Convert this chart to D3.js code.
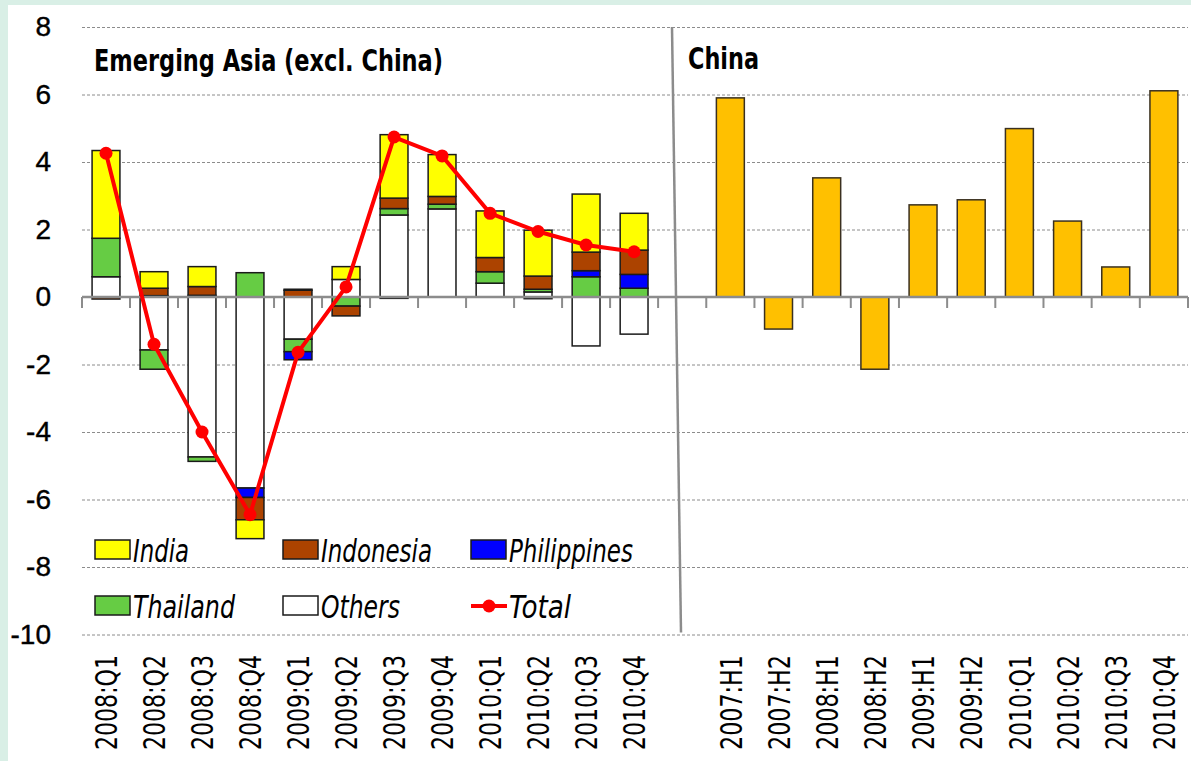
<!DOCTYPE html>
<html>
<head>
<meta charset="utf-8">
<script src="https://cdn.jsdelivr.net/npm/d3@7"></script>
<style>
body { margin: 0; background: #d9efe6; }
svg { display: block; }
.narrow { font-family: "DejaVu Sans Condensed", "DejaVu Sans", sans-serif; font-stretch: condensed; }
</style>
</head>
<body>
<svg width="1191" height="761"></svg>
<script>
// left panel: contributions, quarterly
var quarters = ["2008:Q1", "2008:Q2", "2008:Q3", "2008:Q4", "2009:Q1", "2009:Q2",
    "2009:Q3", "2009:Q4", "2010:Q1", "2010:Q2", "2010:Q3", "2010:Q4"];
var india = [2.60, 0.49, 0.59, -0.56, 0.03, 0.38, 1.88, 1.24, 1.38, 1.36, 1.72, 1.09];
var indonesia = [-0.06, 0.22, 0.26, -0.66, 0.20, -0.29, 0.31, 0.23, 0.42, 0.39, 0.55, 0.72];
var philippines = [0, 0.04, 0.05, -0.28, -0.24, 0, -0.04, 0, 0, -0.05, 0.18, 0.41];
var thailand = [1.14, -0.57, -0.13, 0.72, -0.37, -0.27, 0.19, 0.14, 0.34, 0.08, 0.60, 0.26];
var others = [0.60, -1.57, -4.74, -5.66, -1.25, 0.52, 2.43, 2.61, 0.41, 0.15, -1.45, -1.10];
var total = [4.26, -1.40, -4.00, -6.45, -1.64, 0.30, 4.74, 4.18, 2.48, 1.94, 1.54, 1.34];

// right panel: China
var chinaPeriods = ["2007:H1", "2007:H2", "2008:H1", "2008:H2", "2009:H1", "2009:H2",
    "2010:Q1", "2010:Q2", "2010:Q3", "2010:Q4"];
var china = [5.90, -0.95, 3.53, -2.14, 2.73, 2.88, 4.99, 2.25, 0.89, 6.11];

var yTicks = [8, 6, 4, 2, 0, -2, -4, -6, -8, -10];

var svg = d3.select("svg");

svg.append("rect").attr("x", 8).attr("y", 5).attr("width", 1183).attr("height", 756)
    .attr("fill", "#fff");

var y = d3.scaleLinear().domain([-10, 8]).range([634.5, 27]);
var x = d3.scaleBand().domain(quarters).range([82, 658.1])
    .paddingInner(0.42).paddingOuter(0.21);
var x2 = d3.scaleBand().domain([" "].concat(chinaPeriods)).range([658.1, 1188])
    .paddingInner(0.42).paddingOuter(0.21);

// gridlines
svg.append("g")
    .attr("transform", "translate(82,0)")
    .call(d3.axisLeft(y).tickValues(yTicks.filter(function (d) { return d !== 0; }))
        .tickSize(-1106).tickFormat(""))
    .call(function (g) {
        g.select(".domain").remove();
        g.selectAll("line").attr("stroke", "#8c8c8c").attr("stroke-dasharray", "3,2");
    });

// y labels
svg.append("g")
    .attr("transform", "translate(51,0)")
    .call(d3.axisLeft(y).tickValues(yTicks).tickSize(0).tickPadding(0)
        .tickFormat(function (d) { return String(d); }))
    .call(function (g) {
        g.select(".domain").remove();
        g.selectAll("text").attr("font-family", "Liberation Sans").attr("font-size", 28)
            .attr("stroke", "#000").attr("stroke-width", 0.4).attr("fill", "#000");
    });

// stacked bars
var keys = ["Others", "Thailand", "Philippines", "Indonesia", "India"];
var colors = {India: "#ffff00", Indonesia: "#ac4300", Philippines: "#0000ff",
    Thailand: "#66cc44", Others: "#ffffff"};
var rows = quarters.map(function (q, i) {
    return {q: q, India: india[i], Indonesia: indonesia[i], Philippines: philippines[i],
        Thailand: thailand[i], Others: others[i]};
});
var series = d3.stack().keys(keys).offset(d3.stackOffsetDiverging)(rows);

svg.append("g").selectAll("g").data(series).enter().append("g")
    .attr("fill", function (d) { return colors[d.key]; })
    .selectAll("rect").data(function (d) { return d; }).enter().append("rect")
    .attr("x", function (d) { return x(d.data.q); })
    .attr("width", x.bandwidth())
    .attr("y", function (d) { return y(Math.max(d[0], d[1])); })
    .attr("height", function (d) { return Math.abs(y(d[0]) - y(d[1])); })
    .attr("stroke", "#1a1a1a").attr("stroke-width", 1.5);

// China bars
svg.append("g").selectAll("rect").data(china).enter().append("rect")
    .attr("x", function (d, i) { return x2(chinaPeriods[i]); })
    .attr("width", x2.bandwidth())
    .attr("y", function (d) { return y(Math.max(0, d)); })
    .attr("height", function (d) { return Math.abs(y(d) - y(0)); })
    .attr("fill", "#ffc000").attr("stroke", "#3a3020").attr("stroke-width", 1.5);

// zero axis with ticks at category boundaries
svg.append("line").attr("x1", 82).attr("x2", 1188).attr("y1", y(0)).attr("y2", y(0))
    .attr("stroke", "#8c8c8c").attr("stroke-width", 2.5);
var bounds = quarters.map(function (q) { return x(q) - x.step() * 0.21; })
    .concat(x2.domain().map(function (q) { return x2(q) - x2.step() * 0.21; }))
    .concat([1188]);
svg.append("g").selectAll("line").data(bounds).enter().append("line")
    .attr("x1", function (d) { return d; }).attr("x2", function (d) { return d; })
    .attr("y1", y(0)).attr("y2", y(0) + 11)
    .attr("stroke", "#8c8c8c").attr("stroke-width", 2);

// divider between panels
svg.append("line").attr("x1", 672).attr("y1", y(8)).attr("x2", 681).attr("y2", y(-10) - 2)
    .attr("stroke", "#8c8c8c").attr("stroke-width", 2.5);

// total line
var line = d3.line()
    .x(function (d, i) { return x(quarters[i]) + x.bandwidth() / 2; })
    .y(function (d) { return y(d); });
svg.append("path").datum(total).attr("d", line)
    .attr("fill", "none").attr("stroke", "#ff0000").attr("stroke-width", 4);
svg.append("g").selectAll("circle").data(total).enter().append("circle")
    .attr("cx", function (d, i) { return x(quarters[i]) + x.bandwidth() / 2; })
    .attr("cy", function (d) { return y(d); })
    .attr("r", 6.5).attr("fill", "#ff0000");

// x labels
function xLabels(scale, cats) {
    svg.append("g").selectAll("text").data(cats).enter().append("text")
        .attr("class", "narrow")
        .attr("transform", function (d) {
            return "translate(" + (scale(d) + scale.bandwidth() / 2) + ",655) rotate(-90)";
        })
        .attr("dy", "0.36em")
        .attr("text-anchor", "end")
        .attr("font-size", 31)
        .attr("textLength", 95).attr("lengthAdjust", "spacingAndGlyphs")
        .text(function (d) { return d; });
}
xLabels(x, quarters);
xLabels(x2, chinaPeriods);

// panel titles
svg.append("text").attr("class", "narrow").attr("x", 94).attr("y", 71)
    .attr("font-weight", "bold").attr("font-size", 31)
    .attr("textLength", 349).attr("lengthAdjust", "spacingAndGlyphs")
    .text("Emerging Asia (excl. China)");
svg.append("text").attr("class", "narrow").attr("x", 688).attr("y", 69)
    .attr("font-weight", "bold").attr("font-size", 31)
    .attr("textLength", 71).attr("lengthAdjust", "spacingAndGlyphs")
    .text("China");

// legend
var legendItems = [
    {name: "India", col: 0, row: 0},
    {name: "Indonesia", col: 1, row: 0},
    {name: "Philippines", col: 2, row: 0},
    {name: "Thailand", col: 0, row: 1},
    {name: "Others", col: 1, row: 1},
    {name: "Total", col: 2, row: 1}
];
var textWidths = {India: 56, Indonesia: 111, Philippines: 124, Thailand: 102, Others: 79, Total: 62};
var leg = svg.append("g").selectAll("g").data(legendItems).enter().append("g")
    .attr("transform", function (d) {
        return "translate(" + (95 + d.col * 188) + "," + (540 + d.row * 56) + ")";
    });
leg.filter(function (d) { return d.name !== "Total"; }).append("rect")
    .attr("width", 35).attr("height", 19)
    .attr("fill", function (d) { return colors[d.name]; })
    .attr("stroke", "#1a1a1a").attr("stroke-width", 1.5);
var tl = leg.filter(function (d) { return d.name === "Total"; });
tl.append("line").attr("x1", 0).attr("x2", 36).attr("y1", 10).attr("y2", 10)
    .attr("stroke", "#ff0000").attr("stroke-width", 4);
tl.append("circle").attr("cx", 18).attr("cy", 10).attr("r", 6.5).attr("fill", "#ff0000");
leg.append("text").attr("class", "narrow").attr("x", 38).attr("y", 22)
    .attr("font-style", "italic").attr("font-size", 32)
    .attr("textLength", function (d) { return textWidths[d.name]; })
    .attr("lengthAdjust", "spacingAndGlyphs")
    .text(function (d) { return d.name; });
</script>
</body>
</html>
